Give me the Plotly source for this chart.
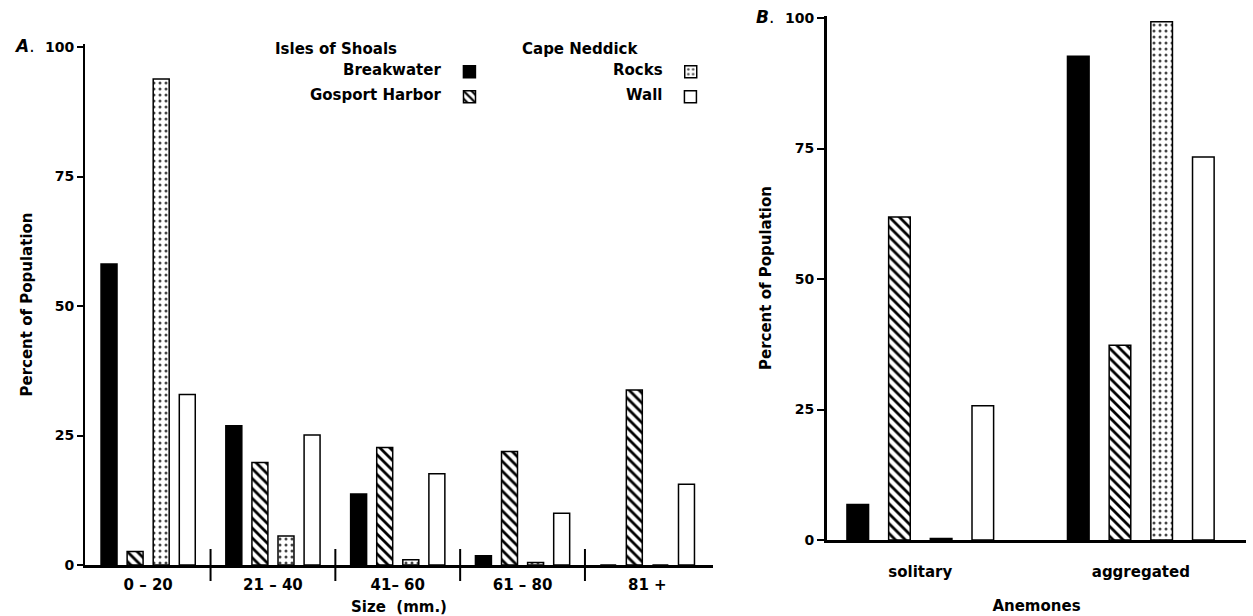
import plotly.graph_objects as go

# ---------------- data ----------------
size_classes = ["0 – 20", "21 – 40", "41– 60", "61 – 80", "81 +"]
breakwater_size = [58.1, 26.9, 13.7, 1.8, 0.0]
gosport_size = [2.6, 19.8, 22.7, 21.9, 33.8]
rocks_size = [93.8, 5.6, 1.0, 0.5, 0.0]
wall_size = [32.9, 25.1, 17.6, 10.0, 15.6]

anemone_classes = ["solitary", "aggregated"]
breakwater_anem = [6.8, 92.7]
gosport_anem = [61.9, 37.3]
rocks_anem = [0.3, 99.3]
wall_anem = [25.7, 73.4]

series_names = ["Breakwater", "Gosport Harbor", "Rocks", "Wall"]
y_ticks = [0, 25, 50, 75, 100]

# ---------------- styling ----------------
W, H = 1253, 616
FONT = "DejaVu Sans"
BLACK = "#000000"

def px_x(p):
    return p / W

def px_y(p):
    return 1 - p / H

styles = [
    dict(color=BLACK, pattern=dict(shape="")),
    dict(color="white", pattern=dict(shape="\\", fgcolor=BLACK, bgcolor="white",
                                     size=7, solidity=0.4, fillmode="replace")),
    dict(color="white", pattern=dict(shape=".", fgcolor="#444444", bgcolor="white",
                                     size=6, solidity=0.2, fillmode="replace")),
    dict(color="white", pattern=dict(shape="")),
]

# slot/width in category units for each panel
A_SLOT, A_WIDTH = 0.209, 0.128
B_SLOT, B_WIDTH = 0.189, 0.098

fig = go.Figure()

size_series = [breakwater_size, gosport_size, rocks_size, wall_size]
anem_series = [breakwater_anem, gosport_anem, rocks_anem, wall_anem]
legend_ids = ["legend", "legend2", "legend3", "legend4"]

for i, (name, vals) in enumerate(zip(series_names, size_series)):
    st = styles[i]
    fig.add_trace(go.Bar(
        x=size_classes, y=vals, name="",
        hovertext=[name] * len(vals),
        xaxis="x", yaxis="y",
        width=A_WIDTH, offset=(i - 1.5) * A_SLOT - A_WIDTH / 2,
        marker=dict(color=st["color"], pattern=st["pattern"],
                    line=dict(color=BLACK, width=1.5)),
        legend=legend_ids[i], showlegend=True,
    ))

for i, (name, vals) in enumerate(zip(series_names, anem_series)):
    st = styles[i]
    fig.add_trace(go.Bar(
        x=anemone_classes, y=vals, name=name,
        xaxis="x2", yaxis="y2",
        width=B_WIDTH, offset=(i - 1.5) * B_SLOT - B_WIDTH / 2,
        marker=dict(color=st["color"], pattern=st["pattern"],
                    line=dict(color=BLACK, width=1.5)),
        showlegend=False,
    ))

tickfont = dict(family=FONT, size=14, color=BLACK, weight="bold")
catfont = dict(family=FONT, size=15, color=BLACK, weight="bold")
titlefont = dict(family=FONT, size=15, color=BLACK, weight="bold")
labelfont = dict(family=FONT, size=15, color=BLACK, weight="bold")

fig.update_layout(
    width=W, height=H,
    margin=dict(l=0, r=0, t=0, b=0, autoexpand=False),
    paper_bgcolor="white", plot_bgcolor="white",
    barmode="group",
    xaxis=dict(
        domain=[px_x(85), px_x(713)], range=[-0.506, 4.526],
        type="category", showgrid=False, zeroline=False,
        showline=True, linecolor=BLACK, linewidth=3,
        ticks="", tickfont=catfont, ticklabelstandoff=4,
        title=dict(text="Size  (mm.)", font=titlefont, standoff=9),
        anchor="y", fixedrange=True, automargin=False,
    ),
    yaxis=dict(
        domain=[px_y(565), px_y(44)], range=[0, 100.58],
        tickvals=y_ticks, showgrid=False, zeroline=False,
        showline=True, linecolor=BLACK, linewidth=2,
        ticks="outside", ticklen=6, tickwidth=2, tickcolor=BLACK,
        tickfont=tickfont,
        title=dict(text="Percent of Population", font=titlefont, standoff=9),
        anchor="x", fixedrange=True, automargin=False,
    ),
    xaxis2=dict(
        domain=[px_x(827), px_x(1246)], range=[-0.423, 1.477],
        type="category", showgrid=False, zeroline=False,
        showline=True, linecolor=BLACK, linewidth=3,
        ticks="", tickfont=catfont, ticklabelstandoff=16,
        title=dict(text="Anemones", font=titlefont, standoff=21),
        anchor="y2", fixedrange=True, automargin=False,
    ),
    yaxis2=dict(
        domain=[px_y(540), px_y(16)], range=[0, 100.4],
        tickvals=y_ticks, showgrid=False, zeroline=False,
        showline=True, linecolor=BLACK, linewidth=3,
        ticks="outside", ticklen=7, tickwidth=2, tickcolor=BLACK,
        tickfont=tickfont,
        title=dict(text="Percent of Population", font=titlefont, standoff=10),
        anchor="x2", fixedrange=True, automargin=False,
    ),
)

# legends: one per series, label on the left of the swatch
legend_pos = [(495, 72), (495, 97), (716, 72), (716, 97)]
for i, lid in enumerate(legend_ids):
    lx, ly = legend_pos[i]
    fig.update_layout({lid: dict(
        x=px_x(lx), y=px_y(ly), xanchor="right", yanchor="middle",
        bgcolor="rgba(0,0,0,0)", borderwidth=0,
        font=labelfont,
        title=dict(text=series_names[i], side="left", font=labelfont),
        itemwidth=30,
    )})

annotations = [
    dict(text="Isles of Shoals", x=px_x(273), y=px_y(49), xanchor="left"),
    dict(text="Cape Neddick", x=px_x(520), y=px_y(49), xanchor="left"),
]
for a in annotations:
    fig.add_annotation(xref="paper", yref="paper", yanchor="middle",
                       showarrow=False, font=labelfont, **a)

fig.add_annotation(text="<b><i>A</i></b>.", xref="paper", yref="paper",
                   x=px_x(12), y=px_y(46), xanchor="left", yanchor="middle",
                   showarrow=False, font=dict(family=FONT, size=17, color=BLACK))
fig.add_annotation(text="<b><i>B</i></b>.", xref="paper", yref="paper",
                   x=px_x(754), y=px_y(17), xanchor="left", yanchor="middle",
                   showarrow=False, font=dict(family=FONT, size=17, color=BLACK))

# group separators on the size axis
for k in range(len(size_classes) - 1):
    fig.add_shape(type="line", xref="x", yref="paper",
                  x0=k + 0.5, x1=k + 0.5, y0=px_y(581), y1=px_y(549),
                  line=dict(color=BLACK, width=2))

fig.write_html("out.html", config={"displayModeBar": False},
               post_script="document.body.style.margin='0px';")
